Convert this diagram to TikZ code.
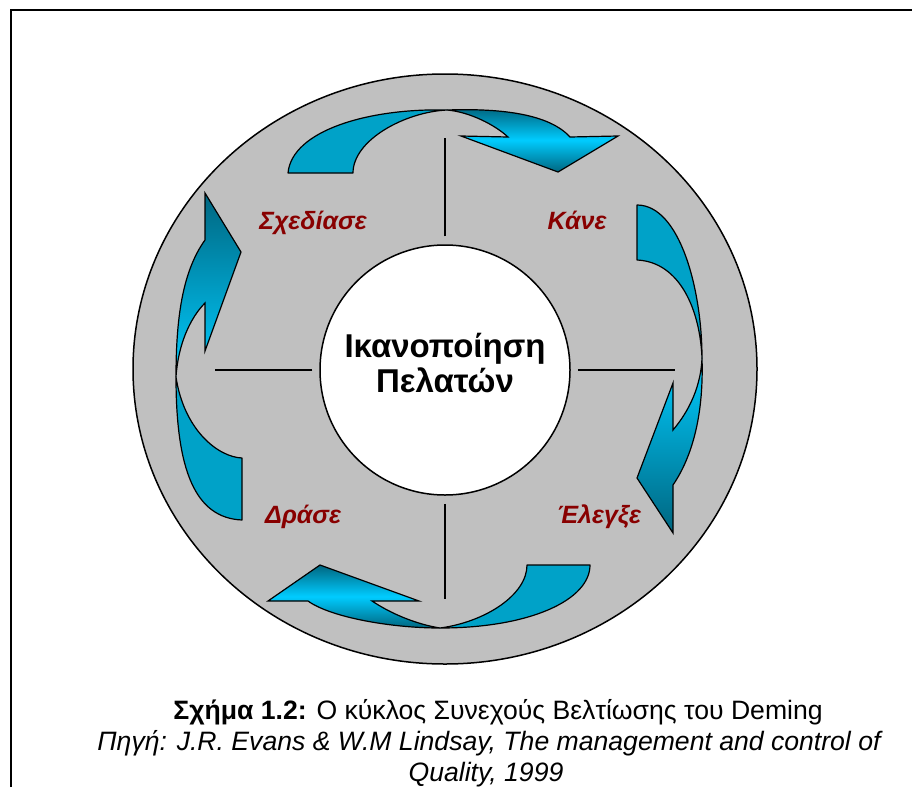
\documentclass[tikz,border=0pt]{standalone}
\usepackage{fontspec}
\setmainfont{Liberation Sans}
\definecolor{ringgray}{RGB}{192,192,192}
\definecolor{tailblue}{RGB}{0,162,200}
\definecolor{headbright}{RGB}{0,204,255}
\definecolor{headdark}{RGB}{0,102,128}
\definecolor{phasered}{RGB}{136,0,0}
\begin{document}
\begin{tikzpicture}[x=1pt, y=-1pt, every node/.style={inner sep=1pt},
  ring/.style={draw, line width=1.5, fill=ringgray},
  hub/.style={draw, circle, line width=1.5, fill=white, minimum size=250, inner sep=0},
  spoke/.style={line width=1.2},
  tailpart/.style={draw, line width=1.2, fill=tailblue, line join=round},
  headpart/.style={draw, line width=1.2, line join=miter},
  phase/.style={anchor=base, text=phasered, font=\fontsize{25}{25}\selectfont\bfseries\itshape},
  caption/.style={anchor=base, font=\fontsize{26.6}{31}\selectfont}]
  \useasboundingbox (0,0) rectangle (912,787);
  \draw[line width=2] (10.5,787) -- (10.5,10) -- (912,10);
  \draw[ring] (445,369) ellipse [x radius=312, y radius=295];
  \node[hub] (core) at (445,370) {};
  \node[font=\fontsize{33}{35}\selectfont\bfseries, align=center] (goal) at (445,363) {Ικανοποίηση\\Πελατών};
  \draw[spoke] ([yshift=8pt]core.north) -- ++(0,-98);
  \draw[spoke] ([yshift=-8pt]core.south) -- ++(0,95);
  \draw[spoke] ([xshift=-7pt]core.west) -- ++(-97,0);
  \draw[spoke] ([xshift=7pt]core.east) -- ++(97,0);
  % top arrow
  \draw[tailpart] (288,173) .. controls (292,130) and (370,108) .. (447,110)
    .. controls (405,112) and (353,140) .. (353,173) -- cycle;
  \draw[headpart, top color=headdark, bottom color=headdark, middle color=headbright]
    (447,110) .. controls (505,108) and (550,115) .. (570,137) -- (618,136) -- (558,172)
    -- (461,136) -- (508,137) .. controls (495,125) and (470,112) .. (447,110) -- cycle;
  % right arrow
  \draw[tailpart] (637,205) .. controls (680,205) and (702,290) .. (702,358)
    .. controls (700,310) and (680,262) .. (637,260) -- cycle;
  \draw[headpart, top color=headbright, bottom color=headdark]
    (702,358) .. controls (704,420) and (690,460) .. (673,485) -- (673,533) -- (637,478)
    -- (673,383) -- (673,430) .. controls (690,410) and (701,385) .. (702,358) -- cycle;
  % bottom arrow
  \draw[tailpart] (590,565) .. controls (590,600) and (530,628) .. (440,628)
    .. controls (485,622) and (527,595) .. (527,565) -- cycle;
  \draw[headpart, top color=headdark, bottom color=headdark, middle color=headbright]
    (440,628) .. controls (390,628) and (330,617) .. (308,601) -- (268,601) -- (320,565)
    -- (419,601) -- (372,601) .. controls (390,613) and (415,624) .. (440,628) -- cycle;
  % left arrow
  \draw[tailpart] (176,377) .. controls (176,470) and (195,518) .. (242,520) -- (242,458)
    .. controls (218,457) and (184,430) .. (176,377) -- cycle;
  \draw[headpart, top color=headdark, bottom color=headbright]
    (176,377) .. controls (176,320) and (182,272) .. (205,240) -- (205,193) -- (241,252)
    -- (205,351) -- (205,303) .. controls (190,318) and (178,345) .. (176,377) -- cycle;
  \node[phase] (plan) at (313,229) {Σχεδίασε};
  \node[phase] (do) at (577,229) {Κάνε};
  \node[phase] (check) at (599,523) {Έλεγξε};
  \node[phase] (act) at (303,523) {Δράσε};
  \node[caption] (title) at (498,719) {\textbf{Σχήμα 1.2:} Ο κύκλος Συνεχούς Βελτίωσης του Deming};
  \node[caption, font=\fontsize{26.6}{31}\selectfont\itshape] (source) at (489,750) {Πηγή: J.R. Evans \& W.M Lindsay, The management and control of};
  \node[caption, font=\fontsize{26.6}{31}\selectfont\itshape] (year) at (486,781) {Quality, 1999};
\end{tikzpicture}
\end{document}
